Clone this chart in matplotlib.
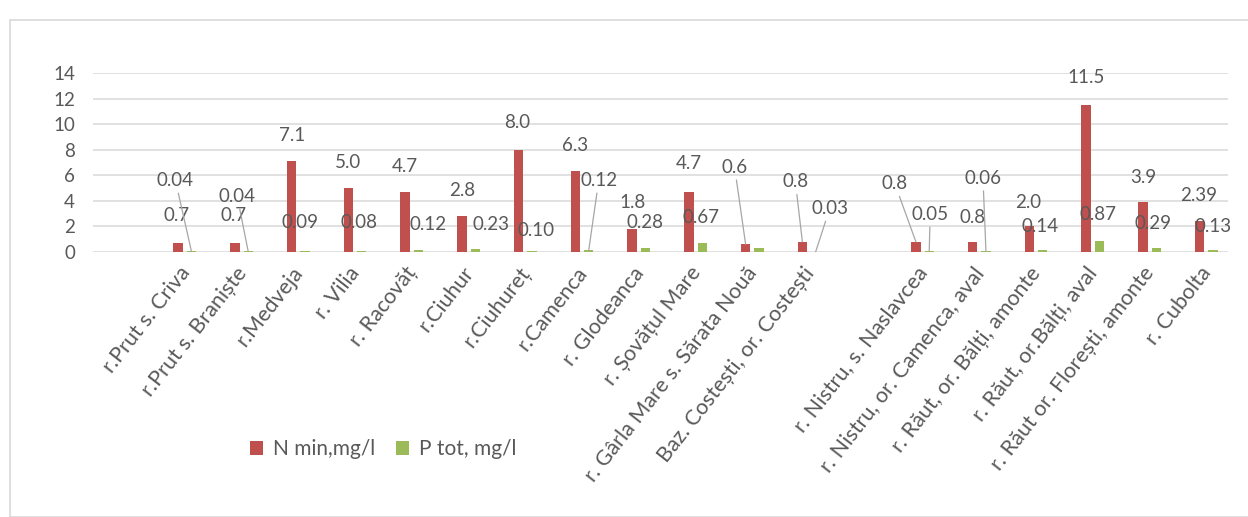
import matplotlib
matplotlib.use("Agg")
import matplotlib.pyplot as plt
from matplotlib.patches import Rectangle

# Sampling stations (blank entries are empty slots on the category axis)
stations = [
    "", "r.Prut s. Criva", "r.Prut s. Braniște", "r.Medveja", "r. Vilia",
    "r. Racovăț", "r.Ciuhur", "r.Ciuhureț", "r.Camenca", "r. Glodeanca",
    "r. Șovățul Mare", "r. Gârla Mare s. Sărata Nouă", "Baz. Costești, or. Costești",
    "", "r. Nistru, s. Naslavcea", "r. Nistru, or. Camenca, aval",
    "r. Răut, or. Bălți, amonte", "r. Răut, or.Bălți, aval",
    "r. Răut or. Florești, amonte", "r. Cubolta",
]
# Mineral nitrogen, mg/l
n_min = [None, 0.7, 0.7, 7.1, 5.0, 4.7, 2.8, 8.0, 6.3, 1.8, 4.7, 0.6, 0.8,
         None, 0.8, 0.8, 2.0, 11.5, 3.9, 2.39]
# Total phosphorus, mg/l
p_tot = [None, 0.04, 0.04, 0.09, 0.08, 0.12, 0.23, 0.10, 0.12, 0.28, 0.67, 0.3, 0.03,
         None, 0.05, 0.06, 0.14, 0.87, 0.29, 0.13]
p_shown = [True] * 11 + [False] + [True] * 8

# Data-label placement: (dx, dy) in pixels from the bar top, and leader-line flag
n_lbl = [None, (-2, 30, 0), (-1, 30, 0), (0, 28, 0), (0, 28, 0), (0, 27, 0),
         (0, 28, 0), (-1, 29, 0), (0, 28, 0), (0, 28, 0), (0, 30, 0), (-11, 79, 1),
         (-7, 62, 1), None, (-21, 60, 1), (0, 26, 0), (-1, 26, 0), (0, 29, 0),
         (0, 27, 0), (-1, 28, 0)]
p_lbl = [None, (-16, 73, 1), (-11, 57, 1), (-5, 30, 0), (-3, 30, 0), (10, 28, 0),
         (16, 27, 0), (4, 22, 0), (10, 72, 1), (0, 28, 0), (-1, 28, 0), None,
         (14, 45, 1), None, (1, 39, 1), (-3, 75, 1), (-3, 26, 0), (-1, 28, 0),
         (-3, 27, 0), (0, 26, 0)]

RED = "#C0504D"
GREEN = "#9BBB59"
TXT = "#595959"
GRID = "#D9D9D9"
FONT = "Lato"
FS = 13.5

plt.rcParams["font.family"] = [FONT, "DejaVu Sans"]

fig = plt.figure(figsize=(12.48, 5.17), dpi=100)
W, H = 1248, 517

# outer chart frame
fig.patches.append(Rectangle((10 / W, 0), 1.5, 1 - 20 / H, transform=fig.transFigure,
                             fill=False, edgecolor=GRID, lw=1.2))

ax = fig.add_axes([93 / W, 1 - 252 / H, (1228 - 93) / W, (252 - 73) / H])
ax.set_xlim(-0.5, len(stations) - 0.5)
ax.set_ylim(0, 14)

bw = 0.164
shift = 0.235
xs_n = [i for i, v in enumerate(n_min) if v is not None]
xs_p = [i + shift for i, v in enumerate(p_tot) if v is not None]
bars_n = ax.bar(xs_n, [v for v in n_min if v is not None], width=bw, color=RED,
                zorder=2, label="N min,mg/l")
bars_p = ax.bar(xs_p, [v for v in p_tot if v is not None], width=bw, color=GREEN,
                zorder=2, label="P tot, mg/l")


def fmt_n(v):
    return f"{v:.2f}" if round(v, 1) != v else f"{v:.1f}"


def put_label(x, v, text, spec):
    dx, dy, lead = spec
    arrow = None
    if lead:
        arrow = dict(arrowstyle="-", color="#A6A6A6", lw=0.9, shrinkA=1, shrinkB=0)
    ax.annotate(text, xy=(x, v), xytext=(dx, dy - 2), textcoords="offset pixels",
                ha="center", va="center", fontsize=FS, color=TXT, zorder=3,
                arrowprops=arrow)


for i, v in enumerate(n_min):
    if v is not None and n_lbl[i] is not None:
        put_label(i, v, fmt_n(v), n_lbl[i])
for i, v in enumerate(p_tot):
    if v is not None and p_shown[i] and p_lbl[i] is not None:
        put_label(i + shift, v, f"{v:.2f}", p_lbl[i])

ax.set_yticks(range(0, 15, 2))
ax.yaxis.grid(True, color=GRID, lw=1.1, zorder=0)
ax.set_axisbelow(True)
for s in ax.spines.values():
    s.set_visible(False)
ax.tick_params(axis="both", length=0, colors=TXT, labelsize=FS)
ax.tick_params(axis="y", pad=13)
ax.set_xticks(range(len(stations)))
ax.set_xticklabels(stations, rotation=52, ha="right", rotation_mode="anchor",
                   fontsize=15.5, color=TXT)
ax.tick_params(axis="x", pad=8)

leg = fig.legend(handles=[bars_n, bars_p], loc="center",
                 bbox_to_anchor=(383 / W, 1 - 449 / H), ncol=2, frameon=False,
                 fontsize=15, handlelength=0.65, handleheight=0.65,
                 handletextpad=0.45, columnspacing=1.0)
for t in leg.get_texts():
    t.set_color(TXT)

fig.savefig("out.png", dpi=100, facecolor="white")
